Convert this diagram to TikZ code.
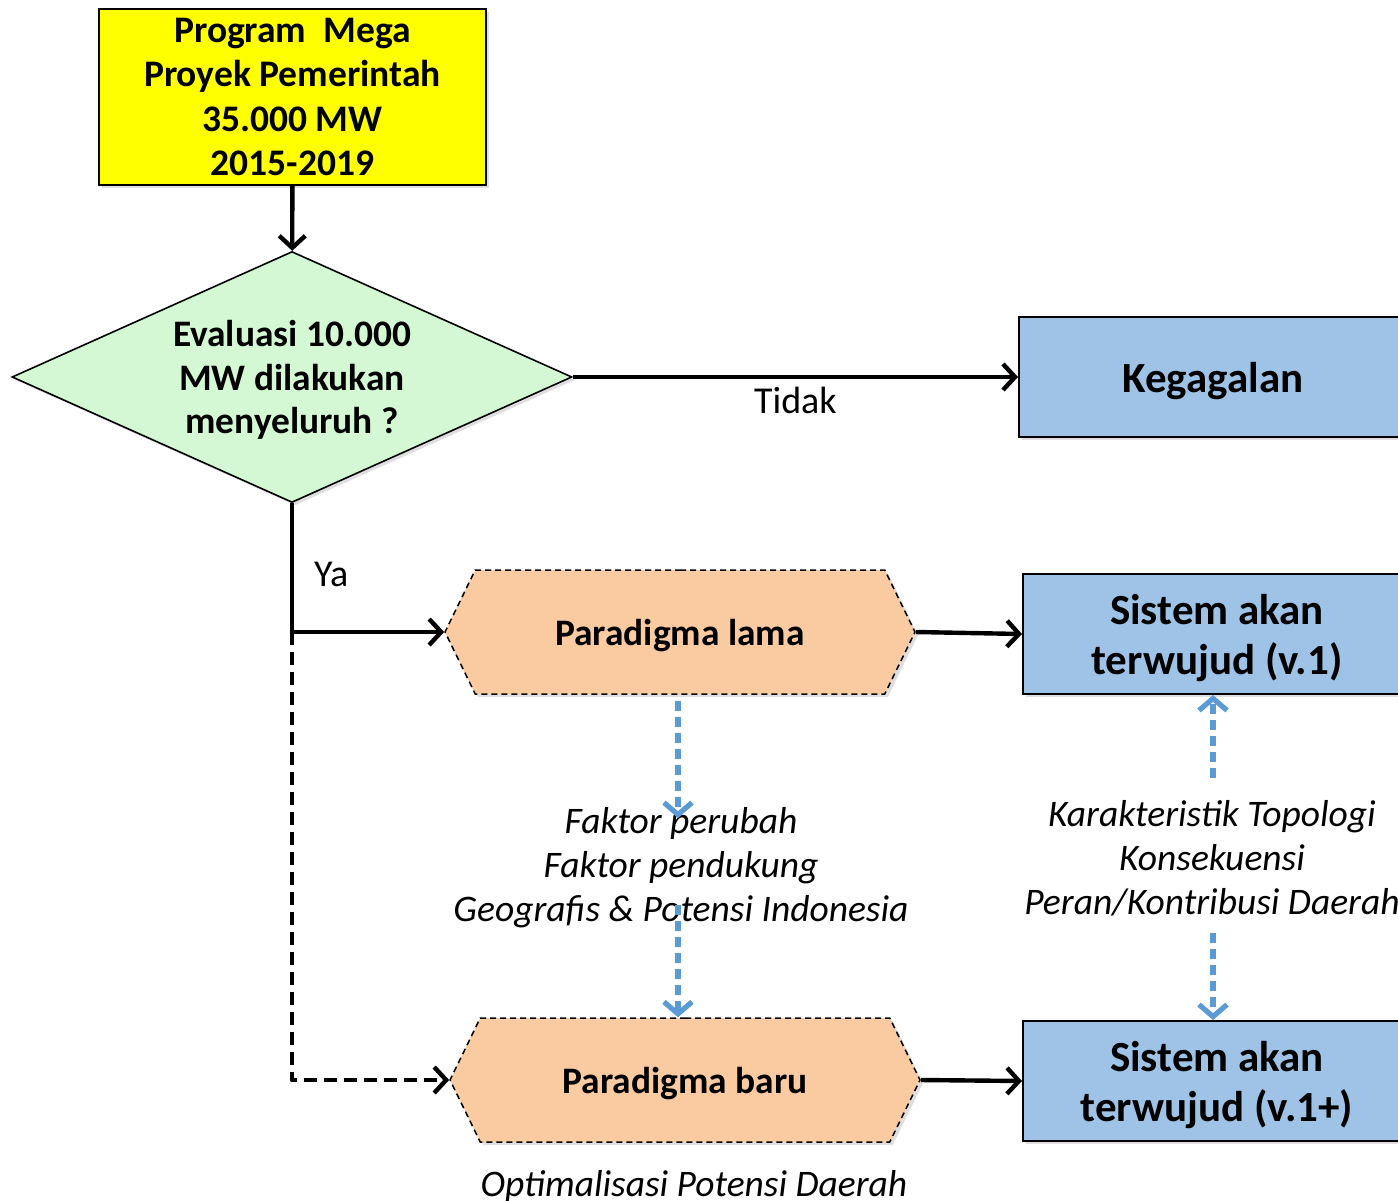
\documentclass[tikz,border=0pt]{standalone}
\usepackage{fontspec}
\setmainfont{Carlito}
\usetikzlibrary{shapes, arrows.meta, shadows, calc, positioning}
\definecolor{progyellow}{RGB}{255,255,0}
\definecolor{evalgreen}{RGB}{212,248,212}
\definecolor{paraorange}{RGB}{250,202,160}
\definecolor{hasilblue}{RGB}{158,195,230}
\definecolor{noteblue}{RGB}{91,155,213}
\tikzset{softshadow/.style={drop shadow={opacity=0.25, shadow xshift=1.5pt, shadow yshift=-1.5pt}}}
\tikzset{flowarrow/.style={-{Straight Barb[length=6pt, width=13pt]}, line width=2.2pt, line join=round}}
\tikzset{notearrow/.style={-{Straight Barb[length=6pt, width=14pt]}, line width=2.6pt, noteblue, dash pattern=on 5pt off 3pt}}
\tikzset{progbox/.style={draw, line width=1pt, fill=progyellow, softshadow, align=center, inner sep=0pt, text depth=-3pt,
    minimum width=193.5pt, minimum height=88pt, font=\bfseries\fontsize{18.75}{22.2}\selectfont}}
\tikzset{evalbox/.style={diamond, aspect=2.23, draw, line width=0.8pt, fill=evalgreen, softshadow, align=center, inner sep=0pt,
    text depth=-2pt, minimum width=280pt, minimum height=125.5pt, font=\bfseries\fontsize{18.7}{21.8}\selectfont}}
\tikzset{hasilbox/.style={draw, line width=1pt, fill=hasilblue, softshadow, align=center, inner sep=0pt, text depth=-2.5pt,
    minimum width=194pt, minimum height=60pt, font=\bfseries\fontsize{21.5}{25}\selectfont}}
\tikzset{parabox/.style={signal, signal to=west and east, signal pointer angle=128, draw, line width=0.75pt,
    dash pattern=on 3pt off 2pt, fill=paraorange, softshadow, inner sep=0pt, text depth=-3pt,
    minimum width=235pt, minimum height=62pt, font=\bfseries\fontsize{18.7}{22}\selectfont}}
\tikzset{notetext/.style={align=center, inner sep=0pt, font=\itshape\fontsize{18.75}{22}\selectfont}}
\tikzset{flowlabel/.style={inner sep=0pt, font=\fontsize{19}{22}\selectfont}}

\begin{document}
\begin{tikzpicture}[x=0.5pt, y=-0.5pt]
\useasboundingbox (0,0) rectangle (1398,1200);
\clip (0,0) rectangle (1398,1200);

\node[progbox] (Prog) at (292.5,97) {Program\ \ Mega\\Proyek Pemerintah\\35.000 MW\\2015-2019};
\node[evalbox] (Eval) at (292,377) {Evaluasi 10.000\\MW dilakukan\\menyeluruh ?};
\node[hasilbox] (Gagal) at (1213,377) {Kegagalan};
\node[parabox] (Lama) at (680,632) {Paradigma lama};
\node[parabox] (Baru) at (685,1080) {Paradigma baru};
\node[hasilbox] (Sistem1) at (1217,634) {Sistem akan\\terwujud (v.1)};
\node[hasilbox] (Sistem2) at (1217,1081) {Sistem akan\\terwujud (v.1+)};

\node[notetext] (Faktor) at (681,868) {Faktor perubah\\Faktor pendukung\\Geografis \& Potensi Indonesia};
\node[notetext] (Karakter) at (1212,858) {Karakteristik Topologi\\Konsekuensi\\Peran/Kontribusi Daerah};
\node[notetext] (Optimal) at (694,1186) {Optimalisasi Potensi Daerah};

\coordinate (Cabang) at (292,632);
\coordinate (FaktorAtas) at (678,818);
\coordinate (FaktorBawah) at (678,905);
\coordinate (KarakterAtas) at (1213,778);
\coordinate (KarakterBawah) at (1213,933);

\draw[flowarrow] (Prog) -- (Eval);
\draw[flowarrow] (Eval.east) -- node[flowlabel, below=4pt] {Tidak} (Gagal.west);
\draw[line width=2.2pt] (Eval.south) -- node[flowlabel, right=10pt, pos=0.55] {Ya} (Cabang);
\draw[flowarrow] (Cabang) -- (Lama.west);
\draw[flowarrow, dash pattern=on 6.5pt off 3.5pt] (Cabang) |- (Baru.west);
\draw[flowarrow] (Lama.east) -- (Sistem1.west);
\draw[flowarrow] (Baru.east) -- (Sistem2.west);

\draw[notearrow] ([yshift=-3pt]Lama.south -| FaktorAtas) -- (FaktorAtas);
\draw[notearrow] (FaktorBawah) -- (Baru.north -| FaktorBawah);
\draw[notearrow] (KarakterAtas) -- (Sistem1.south -| KarakterAtas);
\draw[notearrow] (KarakterBawah) -- (Sistem2.north -| KarakterBawah);
\end{tikzpicture}
\end{document}
